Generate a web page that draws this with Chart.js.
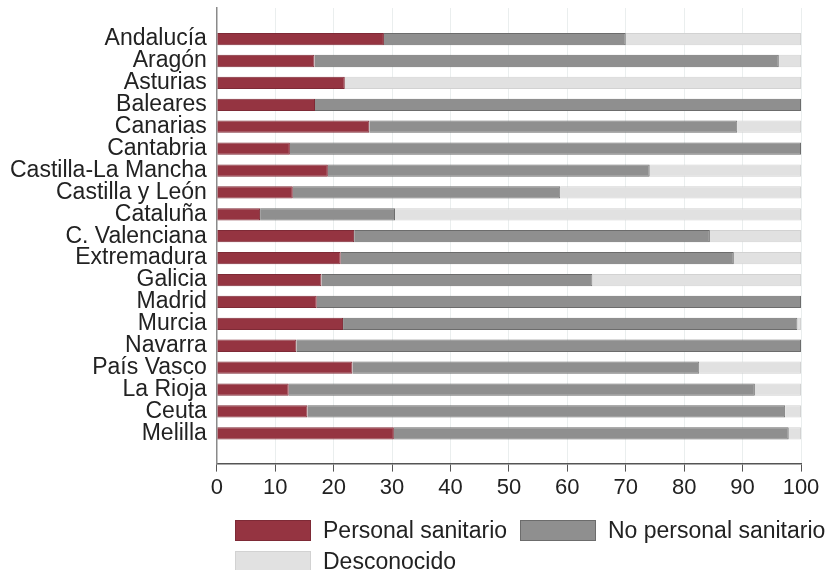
<!DOCTYPE html>
<html lang="es">
<head>
<meta charset="UTF-8">
<title>Casos por comunidad</title>
<style>
    body { margin: 0; background: #fff; font-family: "Liberation Sans", Arial, sans-serif; }
    #wrap { position: relative; width: 827px; height: 570px; }
    #legend {
        position: absolute; left: 235px; top: 519px;
        display: grid; grid-template-columns: 285px auto; row-gap: 9px;
        font-size: 23px; color: #222;
    }
    .item { display: flex; align-items: center; height: 22px; }
    .box { width: 76px; height: 21px; margin-right: 12px; box-sizing: border-box; border: 1px solid; }
</style>
<script src="https://cdn.jsdelivr.net/npm/chart.js"></script>
</head>
<body>
<div id="wrap">
    <canvas id="chart" width="827" height="570"></canvas>
    <div id="legend"></div>
</div>
<script>
const regiones = ['Andalucía', 'Aragón', 'Asturias', 'Baleares', 'Canarias', 'Cantabria',
    'Castilla-La Mancha', 'Castilla y León', 'Cataluña', 'C. Valenciana', 'Extremadura',
    'Galicia', 'Madrid', 'Murcia', 'Navarra', 'País Vasco', 'La Rioja', 'Ceuta', 'Melilla'];

// % por comunidad
const sanitario   = [28.6, 16.7, 21.9, 16.8, 26.1, 12.5, 19.0, 13.0, 7.4, 23.5, 21.2, 17.9, 17.1, 21.6, 13.6, 23.2, 12.3, 15.5, 30.3];
const noSanitario = [41.4, 79.5, 0, 83.2, 63.0, 87.5, 55.1, 45.8, 23.1, 60.9, 67.3, 46.4, 82.9, 77.8, 86.4, 59.4, 79.8, 81.8, 67.6];
const desconocido = [30.0, 3.8, 78.1, 0, 10.9, 0, 25.9, 41.2, 69.5, 15.6, 11.5, 35.7, 0, 0.6, 0, 17.4, 7.9, 2.7, 2.1];

const xTicks = [0, 10, 20, 30, 40, 50, 60, 70, 80, 90, 100];

function serie(vals) {
    return vals.map((v, i) => ({ x: v, y: i }));
}

const datasets = [
    { label: 'Personal sanitario', data: serie(sanitario), backgroundColor: '#953441', borderColor: '#7e2a36' },
    { label: 'No personal sanitario', data: serie(noSanitario), backgroundColor: '#8f8f8f', borderColor: '#6c6c6c' },
    { label: 'Desconocido', data: serie(desconocido), backgroundColor: '#e1e1e1', borderColor: '#d2d2d2' }
].map(d => Object.assign(d, { borderWidth: 1, barPercentage: 0.56, categoryPercentage: 1 }));

const chart = new Chart(document.getElementById('chart'), {
    type: 'bar',
    data: { datasets: datasets },
    options: {
        indexAxis: 'y',
        responsive: false,
        animation: false,
        layout: { padding: { top: 8, right: 26, bottom: 66, left: 8 } },
        plugins: { legend: { display: false }, tooltip: { enabled: false } },
        scales: {
            x: {
                type: 'linear', stacked: true, min: 0, max: 100,
                afterBuildTicks: axis => { axis.ticks = xTicks.map(v => ({ value: v })); },
                grid: { color: '#eaeeee', tickColor: '#555', tickLength: 8, lineWidth: 1 },
                border: { color: '#555', width: 1.5 },
                ticks: { color: '#222', font: { family: 'Liberation Sans', size: 22 }, padding: 3 }
            },
            y: {
                type: 'linear', stacked: true, reverse: true, offset: false, min: -1.42, max: 19.38,
                afterBuildTicks: axis => { axis.ticks = regiones.map((_, i) => ({ value: i })); },
                afterFit: axis => { axis.paddingTop = 0; axis.paddingBottom = 0; },
                grid: { display: false },
                border: { color: '#8a8a8a', width: 1.5 },
                ticks: {
                    color: '#222', font: { family: 'Liberation Sans', size: 23 }, padding: 2,
                    autoSkip: false, callback: v => regiones[v]
                }
            }
        }
    }
});

const legend = document.getElementById('legend');
chart.data.datasets.forEach(d => {
    const item = document.createElement('div');
    item.className = 'item';
    const box = document.createElement('span');
    box.className = 'box';
    box.style.background = d.backgroundColor;
    box.style.borderColor = d.borderColor;
    const txt = document.createElement('span');
    txt.textContent = d.label;
    item.appendChild(box);
    item.appendChild(txt);
    legend.appendChild(item);
});
</script>
</body>
</html>
